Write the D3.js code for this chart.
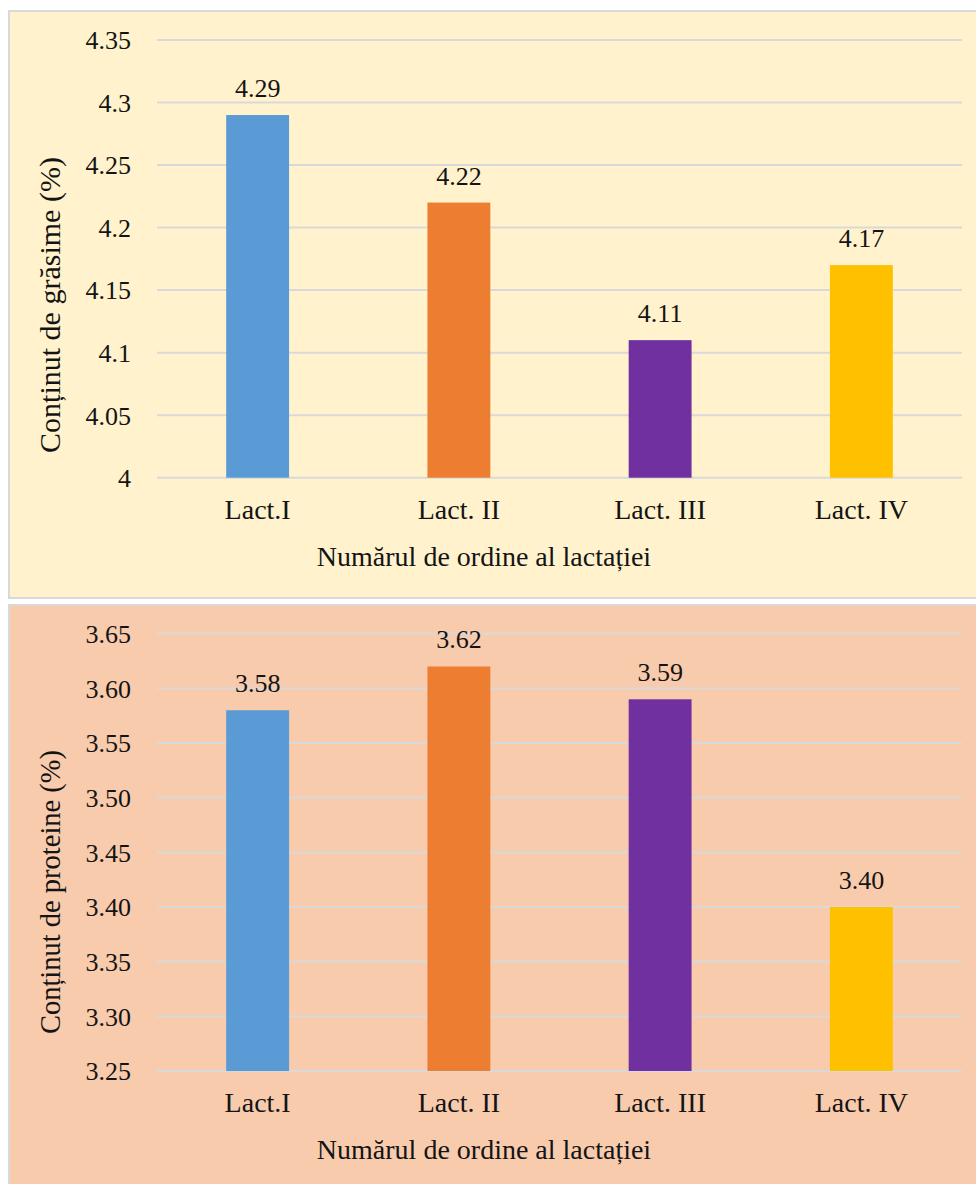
<!DOCTYPE html>
<html>
<head>
<meta charset="utf-8">
<script src="https://cdn.jsdelivr.net/npm/d3@7"></script>
<style>
  html, body { margin: 0; padding: 0; background: #ffffff; }
  svg { display: block; }
  svg text { font-family: "Liberation Serif", "Times New Roman", "DejaVu Serif", serif !important; fill: #141414; }
</style>
</head>
<body>
<svg id="chart" width="976" height="1184"></svg>
<script>
// ---- data ----
const categories = ["Lact.I", "Lact. II", "Lact. III", "Lact. IV"];
const fatValues = [4.29, 4.22, 4.11, 4.17];
const proteinValues = [3.58, 3.62, 3.59, 3.40];
const fatTicks = [4, 4.05, 4.1, 4.15, 4.2, 4.25, 4.3, 4.35];
const proteinTicks = [3.25, 3.30, 3.35, 3.40, 3.45, 3.50, 3.55, 3.60, 3.65];
const barColors = ["#5B9BD5", "#ED7D31", "#7030A0", "#FFC000"];
const xTitle = "Numărul de ordine al lactației";
const fatTitle = "Conținut de grăsime (%)";
const proteinTitle = "Conținut de proteine (%)";

const svg = d3.select("#chart");
const SERIF = '"Liberation Serif", "Times New Roman", serif';

function panel(cfg) {
  const g = svg.append("g").attr("font-family", SERIF);
  g.append("rect")
    .attr("x", 9).attr("y", cfg.top)
    .attr("width", 990).attr("height", cfg.height)
    .attr("fill", cfg.bg).attr("stroke", "#D9D9D9").attr("stroke-width", 2);

  const x = d3.scaleBand().domain(categories).range([157, 962]).padding(0);
  const y = d3.scaleLinear().domain(cfg.domain).range([cfg.y0, cfg.y1]);

  // gridlines
  g.append("g").selectAll("line").data(cfg.ticks).join("line")
    .attr("x1", 157).attr("x2", 962)
    .attr("y1", d => y(d)).attr("y2", d => y(d))
    .attr("stroke", "#D9D9D9").attr("stroke-width", 2);

  // y axis labels
  const yAxis = d3.axisLeft(y).tickValues(cfg.ticks).tickFormat(cfg.tickFmt).tickSize(0).tickPadding(0);
  const ya = g.append("g").attr("transform", "translate(131,0)").call(yAxis);
  ya.attr("font-family", SERIF).attr("font-size", 26);
  ya.select(".domain").remove();
  ya.selectAll("text")
    .style("font-family", SERIF).style("font-size", "26px")
    .attr("fill", "#141414").attr("dy", "0.34em");

  // bars
  const bw = x.bandwidth() / 3.2;
  g.append("g").selectAll("rect").data(cfg.values).join("rect")
    .attr("x", (d, i) => x(categories[i]) + x.bandwidth() / 2 - bw / 2)
    .attr("width", bw)
    .attr("y", d => y(d))
    .attr("height", d => y(cfg.domain[0]) - y(d))
    .attr("fill", (d, i) => barColors[i]);

  // data labels
  g.append("g").selectAll("text").data(cfg.values).join("text")
    .attr("x", (d, i) => x(categories[i]) + x.bandwidth() / 2)
    .attr("y", d => y(d) - 18)
    .attr("text-anchor", "middle")
    .style("font-family", SERIF).style("font-size", "26px")
    .text(d => d.toFixed(2));

  // x axis labels
  const xAxis = d3.axisBottom(x).tickSize(0).tickPadding(0);
  const xa = g.append("g").attr("transform", `translate(0,${cfg.y0})`).call(xAxis);
  xa.attr("font-family", SERIF).attr("font-size", 28);
  xa.select(".domain").remove();
  xa.selectAll("text")
    .style("font-family", SERIF).style("font-size", "28px")
    .attr("fill", "#141414").attr("dy", null).attr("y", 41);

  // x title
  g.append("text")
    .attr("x", 484).attr("y", cfg.y0 + 88)
    .attr("text-anchor", "middle")
    .style("font-family", SERIF).style("font-size", "28px")
    .text(xTitle);

  // y title
  g.append("text")
    .attr("transform", `translate(60,${cfg.titleY}) rotate(-90)`)
    .attr("text-anchor", "middle")
    .style("font-family", SERIF).style("font-size", cfg.titleSize + "px")
    .text(cfg.title);
}

panel({
  top: 11, height: 587, bg: "#FFF2CC",
  domain: [4, 4.35], y0: 477.7, y1: 40,
  ticks: fatTicks, tickFmt: d3.format(""),
  values: fatValues, title: fatTitle, titleY: 305, titleSize: 30
});

panel({
  top: 605, height: 600, bg: "#F8CBAD",
  domain: [3.25, 3.65], y0: 1071, y1: 633.7,
  ticks: proteinTicks, tickFmt: d3.format(".2f"),
  values: proteinValues, title: proteinTitle, titleY: 892, titleSize: 28.5
});
</script>
</body>
</html>
